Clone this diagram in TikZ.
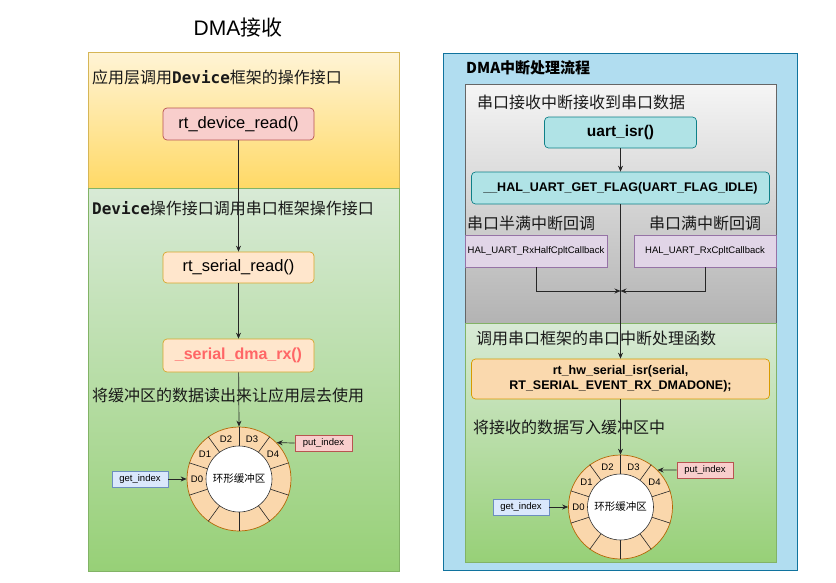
\documentclass[tikz,border=0pt]{standalone}
\usepackage{fontspec}
\setmainfont{Liberation Sans}
\newfontfamily\cjk{Noto Sans CJK SC}
\newfontfamily\monob{DejaVu Sans Mono}
\usetikzlibrary{arrows.meta,calc}
\definecolor{ytop}{HTML}{FFF4D6}
\definecolor{ybot}{HTML}{FFD966}
\definecolor{ydraw}{HTML}{D6B656}
\definecolor{gtop}{HTML}{D8EAD6}
\definecolor{gbot}{HTML}{97D077}
\definecolor{gdraw}{HTML}{82B366}
\definecolor{graytop}{HTML}{F5F5F5}
\definecolor{graybot}{HTML}{B3B3B3}
\definecolor{graydraw}{HTML}{666666}
\definecolor{bluefill}{HTML}{B1DDF0}
\definecolor{bluedraw}{HTML}{10739E}
\definecolor{pinkfill}{HTML}{F8CECC}
\definecolor{pinkdraw}{HTML}{B85450}
\definecolor{peachfill}{HTML}{FFE6CC}
\definecolor{peachdraw}{HTML}{D7A52B}
\definecolor{tealfill}{HTML}{B0E3E6}
\definecolor{tealdraw}{HTML}{0E8088}
\definecolor{purpfill}{HTML}{E1D5E7}
\definecolor{purpdraw}{HTML}{9673A6}
\definecolor{orfill}{HTML}{FAD9AE}
\definecolor{ordraw}{HTML}{D79B00}
\definecolor{ringfill}{HTML}{FAD7AC}
\definecolor{ringdraw}{HTML}{B46504}
\definecolor{ltbluefill}{HTML}{DAE8FC}
\definecolor{ltbluedraw}{HTML}{6C8EBF}
\definecolor{redtxt}{HTML}{FF6666}
\newcommand\ringbuf[3]{%
  \node[ringout] (#1) at (#2,#3) {};
  \foreach \a in {18,54,...,342} {\draw[spoke] (#1.center) -- (#1.\a);}
  \node[ringin] (#1in) at (#1.center) {环形缓冲区};
  \foreach \k/\a in {0/180,1/144,2/108,3/72,4/36} {\path (#1.center) ++(\a:42pt) node[dlab] (#1d\k) {D\k};}
}
\tikzset{
  hd/.style={inner sep=0pt, anchor=west, text=black!90, font=\cjk\fontsize{16}{19}\selectfont},
  fbox/.style={rectangle, rounded corners=4pt, line width=0.7pt, inner sep=0pt},
  sbox/.style={rectangle, line width=0.7pt, inner sep=0pt, font=\fontsize{9.5}{11}\selectfont},
  ringout/.style={circle, minimum size=104pt, inner sep=0pt, fill=ringfill, draw=ringdraw, line width=0.7pt},
  ringin/.style={circle, minimum size=66pt, inner sep=0pt, fill=white, draw=black!80, line width=0.6pt, font=\cjk\fontsize{10.5}{12}\selectfont},
  spoke/.style={draw=black!85, line width=0.6pt},
  dlab/.style={inner sep=0pt, font=\fontsize{9.5}{11}\selectfont},
  arr/.style={-{Stealth[length=6pt,width=5pt]}, draw=black!85, line width=0.7pt},
}
\begin{document}
\begin{tikzpicture}[x=1pt,y=-1pt]
\useasboundingbox[fill=white] (0,0) rectangle (836,582);
% title
\node[inner sep=0pt, font=\fontsize{21}{25}\selectfont] (title) at (238,28) {DMA{\cjk 接收}};
% left panel
\path[top color=ytop, bottom color=ybot, draw=ydraw, line width=0.6pt] (88,52) rectangle (399,188);
\path[top color=gtop, bottom color=gbot, draw=gdraw, line width=0.6pt] (88,188) rectangle (399,571);
\node[hd] (h1) at (92,77) {应用层调用{\monob\bfseries Device}框架的操作接口};
\node[hd] (h2) at (92,208) {{\monob\bfseries Device}操作接口调用串口框架操作接口};
\node[hd] (h3) at (92,395) {将缓冲区的数据读出来让应用层去使用};
\node[fbox, fill=pinkfill, draw=pinkdraw, minimum width=151pt, minimum height=32pt, font=\fontsize{16.5}{19}\selectfont] (rtdev) at (238.5,124) {rt\_device\_read()};
\node[fbox, fill=peachfill, draw=peachdraw, minimum width=151pt, minimum height=31pt, font=\fontsize{16.5}{19}\selectfont] (rtser) at (238.5,267.5) {rt\_serial\_read()};
\node[fbox, fill=peachfill, draw=peachdraw, minimum width=151pt, minimum height=33pt, text=redtxt, font=\bfseries\fontsize{16}{19}\selectfont] (dmarx) at (238.5,355.5) {\_serial\_dma\_rx()};
\ringbuf{ringL}{239}{479}
\node[sbox, fill=ltbluefill, draw=ltbluedraw, minimum width=56pt, minimum height=16pt] (getL) at (140,479) {get\_index};
\node[sbox, fill=pinkfill, draw=pinkdraw, minimum width=57pt, minimum height=16pt] (putL) at (323.5,443) {put\_index};
\draw[arr] (rtdev) -- (rtser);
\draw[arr] (rtser) -- (dmarx);
\draw[arr] (dmarx) -- (ringL.north);
\draw[arr] (getL) -- (ringL.west);
\draw[arr] (putL.west) -- (ringL.44);
% right panel
\path[fill=bluefill, draw=bluedraw, line width=0.7pt] (443,53) rectangle (797,570);
\path[top color=graytop, bottom color=graybot, draw=graydraw, line width=0.6pt] (465,84) rectangle (776,323);
\path[top color=gtop, bottom color=gbot, draw=gdraw, line width=0.6pt] (465,323) rectangle (776,562);
\node[inner sep=0pt, anchor=west, font=\cjk\bfseries\fontsize{15}{18}\selectfont] (h4) at (466,68) {DMA中断处理流程};
\node[hd] (h5) at (477,102) {串口接收中断接收到串口数据};
\node[hd] (h6) at (467,223) {串口半满中断回调};
\node[hd] (h7) at (649,223) {串口满中断回调};
\node[hd] (h8) at (476,338) {调用串口框架的串口中断处理函数};
\node[hd] (h9) at (473,427) {将接收的数据写入缓冲区中};
\node[fbox, fill=tealfill, draw=tealdraw, minimum width=152pt, minimum height=31pt, font=\bfseries\fontsize{15.5}{18}\selectfont] (uart) at (620.5,132.5) {uart\_isr()};
\node[fbox, fill=tealfill, draw=tealdraw, minimum width=298pt, minimum height=32pt, font=\bfseries\fontsize{12.5}{15}\selectfont] (flag) at (620.5,188) {\_\_HAL\_UART\_GET\_FLAG(UART\_FLAG\_IDLE)};
\node[sbox, fill=purpfill, draw=purpdraw, minimum width=142pt, minimum height=32pt] (half) at (536,251) {HAL\_UART\_RxHalfCpltCallback};
\node[sbox, fill=purpfill, draw=purpdraw, minimum width=142pt, minimum height=32pt] (full) at (705,251) {HAL\_UART\_RxCpltCallback};
\node[fbox, fill=orfill, draw=ordraw, minimum width=298pt, minimum height=40pt, align=center, font=\bfseries\fontsize{12.5}{15}\selectfont] (hwisr) at (620.5,379) {rt\_hw\_serial\_isr(serial,\\RT\_SERIAL\_EVENT\_RX\_DMADONE);};
\ringbuf{ringR}{620.5}{507}
\node[sbox, fill=ltbluefill, draw=ltbluedraw, minimum width=56pt, minimum height=16pt] (getR) at (521,507) {get\_index};
\node[sbox, fill=pinkfill, draw=pinkdraw, minimum width=56pt, minimum height=16pt] (putR) at (705,470) {put\_index};
\coordinate (m) at (620.5,291);
\draw[arr] (uart) -- (flag);
\draw[arr] (flag) -- (hwisr);
\draw[arr] (half.south) |- (m);
\draw[arr] (full.south) |- (m);
\draw[arr] (hwisr) -- (ringR.north);
\draw[arr] (getR) -- (ringR.west);
\draw[arr] (putR.west) -- (ringR.45);
\end{tikzpicture}
\end{document}
